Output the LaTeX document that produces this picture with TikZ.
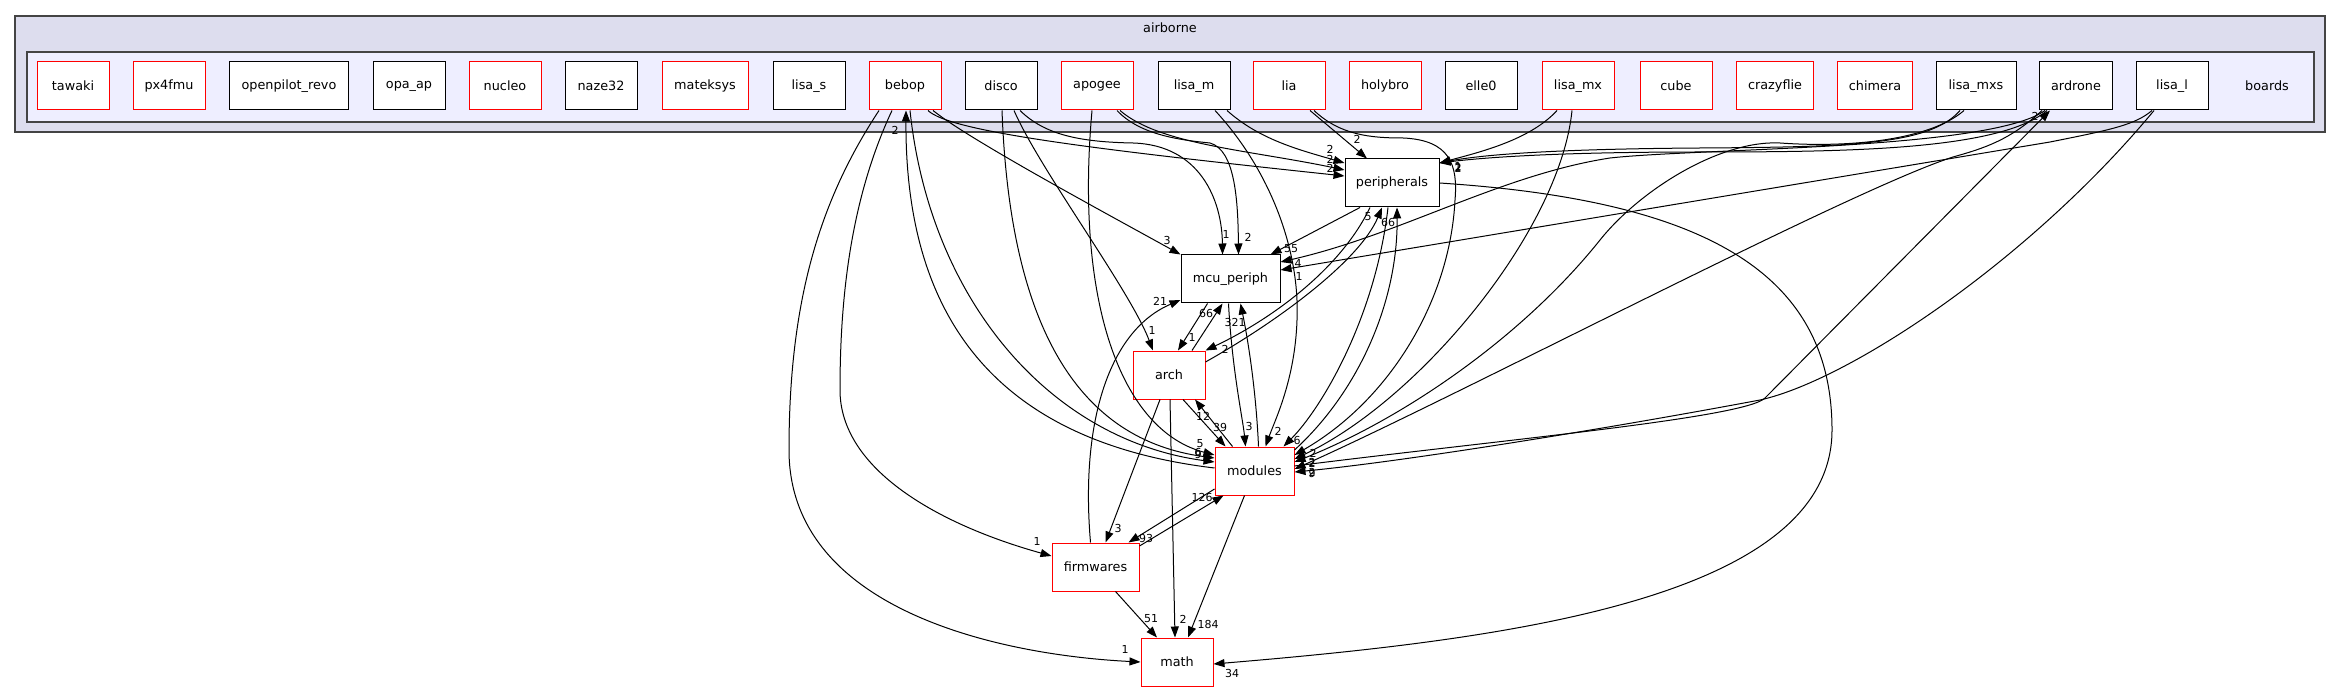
\documentclass[tikz,border=0pt]{standalone}
\usepackage{fontspec}
\setmainfont{DejaVu Sans}
\usetikzlibrary{arrows.meta}
\definecolor{clA}{HTML}{DDDDEE}
\definecolor{clB}{HTML}{EEEEFF}
\definecolor{clEdge}{HTML}{444444}
\tikzset{
  dnode/.style={draw=black, fill=white, line width=1pt, minimum width=72pt, minimum height=48pt, inner sep=0pt, font=\fontsize{12.8}{14}\selectfont},
  rnode/.style={dnode, draw=red},
  lbl/.style={font=\fontsize{11}{12}\selectfont, inner sep=0pt},
  dep/.style={draw=black, line width=1pt, -{Triangle[length=11pt,width=8pt]}},
  clusterbox/.style={draw=clEdge, line width=1.4pt},
}
\begin{document}
\begin{tikzpicture}[x=1pt,y=-1pt]
\useasboundingbox (0,0) rectangle (2341,692);
% clusters
\filldraw[clusterbox, fill=clA] (15,16) rectangle (2325,132);
\node[font=\fontsize{12.8}{14}\selectfont, inner sep=0pt] (airbornelbl) at (1170,28) {airborne};
\filldraw[clusterbox, fill=clB] (27,52) rectangle (2314,122);
\node[font=\fontsize{12.8}{14}\selectfont, inner sep=0pt] (boardslbl) at (2267,86) {boards};
% board nodes
\node[rnode] (tawaki) at (73,86) {tawaki};
\node[rnode] (px4fmu) at (169,86) {px4fmu};
\node[dnode, minimum width=119pt] (openpilot) at (289,86) {openpilot\_revo};
\node[dnode] (opaap) at (409,86) {opa\_ap};
\node[rnode] (nucleo) at (505,86) {nucleo};
\node[dnode] (naze) at (601,86) {naze32};
\node[rnode, minimum width=86pt] (mateksys) at (705,86) {mateksys};
\node[dnode] (lisas) at (809,86) {lisa\_s};
\node[rnode] (bebop) at (905,86) {bebop};
\node[dnode] (disco) at (1001,86) {disco};
\node[rnode] (apogee) at (1097,86) {apogee};
\node[dnode] (lisam) at (1194,86) {lisa\_m};
\node[rnode] (lia) at (1289,86) {lia};
\node[rnode] (holybro) at (1385,86) {holybro};
\node[dnode] (elle) at (1481,86) {elle0};
\node[rnode] (lisamx) at (1578,86) {lisa\_mx};
\node[rnode] (cube) at (1676,86) {cube};
\node[rnode, minimum width=77pt] (crazyflie) at (1775,86) {crazyflie};
\node[rnode, minimum width=75pt] (chimera) at (1875,86) {chimera};
\node[dnode, minimum width=80pt] (lisamxs) at (1976,86) {lisa\_mxs};
\node[dnode, minimum width=73pt] (ardrone) at (2076,86) {ardrone};
\node[dnode] (lisal) at (2172,86) {lisa\_l};
% lower nodes
\node[dnode, minimum width=94pt] (periph) at (1392,183) {peripherals};
\node[dnode, minimum width=99pt] (mcu) at (1230.5,279) {mcu\_periph};
\node[rnode] (arch) at (1169,375) {arch};
\node[rnode, minimum width=79pt] (modules) at (1254.5,471) {modules};
\node[rnode, minimum width=87pt] (firm) at (1095.5,567) {firmwares};
\node[rnode] (math) at (1177,662) {math};

% bebop
\draw[dep] ([xshift=-26pt]bebop.south) .. controls (820,200) and (789,300) .. (789,450) .. controls (789,610) and (1000,655) .. (math.west);
\draw[dep] ([xshift=-13pt]bebop.south) .. controls (850,200) and (840,300) .. (840,390) .. controls (840,470) and (940,525) .. ([yshift=11pt]firm.west);
\draw[dep] ([yshift=3pt]modules.west) .. controls (980,440) and (905,300) .. ([xshift=1pt]bebop.south);
\draw[dep] ([xshift=5pt]bebop.south) .. controls (930,300) and (1050,440) .. ([yshift=9pt]modules.west);
\draw[dep] ([xshift=23pt]bebop.south) .. controls (950,132) and (1100,150) .. ([yshift=7pt]periph.west);
\draw[dep] ([xshift=28pt]bebop.south) .. controls (970,140) and (1100,210) .. (mcu.north west);
% disco
\draw[dep] ([xshift=1pt]disco.south) .. controls (1010,330) and (1080,440) .. ([yshift=13pt]modules.west);
\draw[dep] ([xshift=13pt]disco.south) .. controls (1040,170) and (1130,290) .. ([xshift=-16pt]arch.north);
\draw[dep] ([xshift=19pt]disco.south) .. controls (1045,135) and (1080,142) .. (1133,143) .. controls (1200,145) and (1222,200) .. ([xshift=-8pt]mcu.north);
% apogee
\draw[dep] ([xshift=-5pt]apogee.south) .. controls (1075,300) and (1120,430) .. ([yshift=16pt]modules.west);
\draw[dep] ([xshift=20pt]apogee.south) .. controls (1140,135) and (1180,140) .. (1210,143) .. controls (1235,150) and (1238,200) .. ([xshift=8pt]mcu.north);
\draw[dep] ([xshift=23pt]apogee.south) .. controls (1160,145) and (1250,150) .. ([yshift=13pt]periph.west);
% lisa_m
\draw[dep] ([xshift=33pt]lisam.south) .. controls (1260,140) and (1300,150) .. ([yshift=20pt]periph.west);
\draw[dep] ([xshift=21pt]lisam.south) .. controls (1270,170) and (1300,250) .. (1297,320) .. controls (1295,380) and (1275,420) .. ([xshift=11pt]modules.north);
% lia
\draw[dep] ([xshift=21pt]lia.south) -- ([xshift=-25pt]periph.north);
\draw[dep] ([xshift=25pt]lia.south) .. controls (1340,135) and (1370,138) .. (1403,138) .. controls (1450,140) and (1458,165) .. (1455,200) .. controls (1450,300) and (1390,400) .. ([yshift=16pt]modules.east);
% lisa_mx
\draw[dep] ([xshift=-21pt]lisamx.south) .. controls (1530,140) and (1480,152) .. ([yshift=20pt]periph.east);
\draw[dep] ([xshift=-6pt]lisamx.south) .. controls (1560,230) and (1420,400) .. ([yshift=12pt]modules.east);
% lisa_mxs
\draw[dep] ([xshift=-16pt]lisamxs.south) .. controls (1930,145) and (1850,147) .. (1700,148) .. controls (1550,149) and (1480,155) .. ([yshift=20pt]periph.east);
\draw[dep] ([xshift=-12pt]lisamxs.south) .. controls (1930,140) and (1850,148) .. (1780,143) .. controls (1720,140) and (1640,190) .. (1600,240) .. controls (1520,340) and (1400,420) .. ([yshift=9pt]modules.east);
% ardrone
\draw[dep] ([xshift=-29pt]ardrone.south) .. controls (2000,150) and (1850,152) .. (1700,152) .. controls (1550,152) and (1480,158) .. ([yshift=20pt]periph.east);
\draw[dep] ([xshift=-31pt]ardrone.south) .. controls (1990,150) and (1700,148) .. (1610,158) .. controls (1500,175) and (1400,235) .. ([yshift=17pt]mcu.east);
\draw[dep] ([xshift=-34pt]ardrone.south) .. controls (2010,140) and (1985,148) .. (1953,157) .. controls (1850,190) and (1450,400) .. ([yshift=2pt]modules.east);
\draw[dep] ([yshift=5pt]modules.east) .. controls (1500,440) and (1745,418) .. (1765,398) -- ([xshift=-26pt]ardrone.south);
% lisa_l
\draw[dep] ([xshift=-20pt]lisal.south) .. controls (2135,125) and (2110,130) .. (2050,142) -- ([yshift=9pt]mcu.east);
\draw[dep] ([xshift=-18pt]lisal.south) .. controls (2030,260) and (1850,380) .. (1760,400) .. controls (1600,430) and (1400,462) .. ([yshift=-1pt]modules.east);
% peripherals
\draw[dep] ([xshift=-32pt]periph.south) -- ([xshift=40pt]mcu.north);
\draw[dep] ([xshift=-22pt]periph.south) .. controls (1340,270) and (1270,320) .. (arch.north east);
\draw[dep] ([yshift=13pt]arch.east) .. controls (1280,320) and (1360,260) .. ([xshift=-10pt]periph.south);
\draw[dep] ([xshift=-4pt]periph.south) .. controls (1375,320) and (1320,410) .. ([xshift=29pt]modules.north);
\draw[dep] ([yshift=21pt]modules.east) .. controls (1360,390) and (1398,300) .. ([xshift=5pt]periph.south);
\draw[dep] (periph.east) .. controls (1700,200) and (1832,270) .. (1832,430) .. controls (1832,600) and (1500,640) .. ([yshift=-2pt]math.east);
% mcu_periph / arch / modules
\draw[dep] ([xshift=-23pt]mcu.south) -- ([xshift=9pt]arch.north);
\draw[dep] ([xshift=23pt]arch.north) -- ([xshift=-8pt]mcu.south);
\draw[dep] ([xshift=-2pt]mcu.south) .. controls (1232,370) and (1243,420) .. ([xshift=-9pt]modules.north);
\draw[dep] ([xshift=4pt]modules.north) .. controls (1256,390) and (1248,340) .. ([xshift=10pt]mcu.south);
\draw[dep] ([xshift=14pt]arch.south) -- ([xshift=-29pt]modules.north);
\draw[dep] ([xshift=-22pt]modules.north) -- ([xshift=26pt]arch.south);
\draw[dep] ([xshift=-9pt]arch.south) -- ([xshift=10pt]firm.north);
\draw[dep] ([xshift=1pt]arch.south) -- ([xshift=-2pt]math.north);
% firmwares
\draw[dep] ([xshift=-5pt]firm.north) .. controls (1080,420) and (1110,330) .. ([yshift=-21pt]mcu.west);
\draw[dep] ([yshift=-18pt]modules.west) -- ([xshift=33pt]firm.north);
\draw[dep] ([yshift=21pt]firm.east) -- ([xshift=-31pt]modules.south);
\draw[dep] ([xshift=20pt]firm.south) -- ([xshift=-20pt]math.north);
\draw[dep] ([xshift=-10pt]modules.south) -- ([xshift=11pt]math.north);

% labels
\node[lbl] (l1) at (1125,649) {1};
\node[lbl] (l2) at (1037,541) {1};
\node[lbl] (l3) at (895,130) {2};
\node[lbl] (l4) at (1200,444) {5};
\node[lbl] (l5) at (1198,452) {6};
\node[lbl] (l6) at (1198,454) {9};
\node[lbl] (l7) at (1330,168) {2};
\node[lbl] (l8) at (1330,159) {2};
\node[lbl] (l9) at (1330,149) {2};
\node[lbl] (l10) at (1167,240) {3};
\node[lbl] (l11) at (1152,330) {1};
\node[lbl] (l12) at (1226,234) {1};
\node[lbl] (l13) at (1248,237) {2};
\node[lbl] (l14) at (1278,431) {2};
\node[lbl] (l15) at (1357,139) {2};
\node[lbl] (l16) at (1313,453) {2};
\node[lbl] (l17) at (1458,167) {2};
\node[lbl] (l18) at (1312,462) {2};
\node[lbl] (l19) at (1458,166) {1};
\node[lbl] (l20) at (1312,463) {2};
\node[lbl] (l21) at (1458,168) {2};
\node[lbl] (l22) at (1298,263) {4};
\node[lbl] (l23) at (1312,473) {9};
\node[lbl] (l24) at (2035,116) {2};
\node[lbl] (l25) at (1299,276) {1};
\node[lbl] (l26) at (1312,472) {2};
\node[lbl] (l27) at (1291,249) {55};
\node[lbl] (l28) at (1225,349) {2};
\node[lbl] (l29) at (1368,217) {5};
\node[lbl] (l30) at (1297,440) {6};
\node[lbl] (l31) at (1388,222) {66};
\node[lbl] (l32) at (1232,673) {34};
\node[lbl] (l33) at (1192,337) {1};
\node[lbl] (l34) at (1206,313) {66};
\node[lbl] (l35) at (1249,426) {3};
\node[lbl] (l36) at (1235,322) {321};
\node[lbl] (l37) at (1220,427) {39};
\node[lbl] (l38) at (1203,416) {12};
\node[lbl] (l39) at (1118,528) {3};
\node[lbl] (l40) at (1183,619) {2};
\node[lbl] (l41) at (1160,301) {21};
\node[lbl] (l42) at (1146,538) {93};
\node[lbl] (l43) at (1202,497) {126};
\node[lbl] (l44) at (1151,619) {51};
\node[lbl] (l45) at (1208,624) {184};
\end{tikzpicture}
\end{document}
